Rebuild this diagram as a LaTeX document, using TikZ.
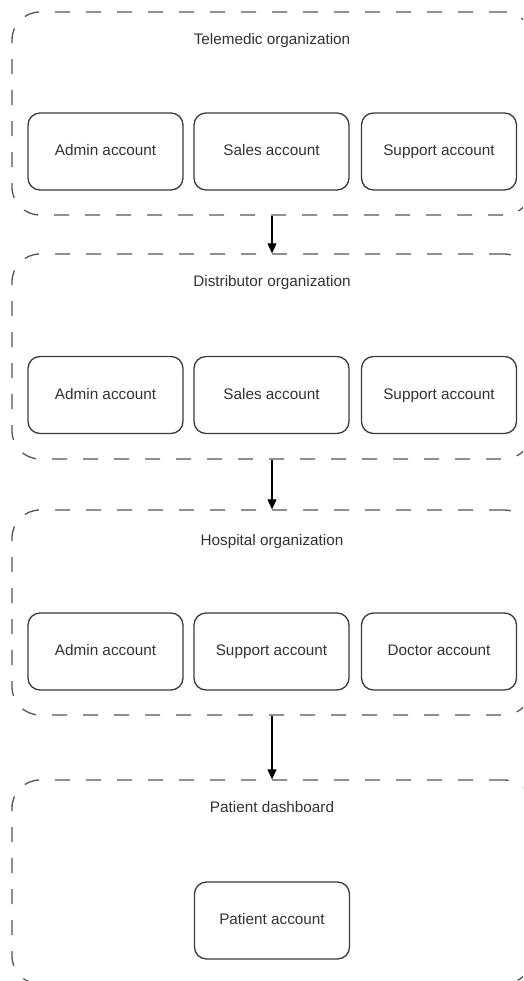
\documentclass[tikz,border=0pt]{standalone}
\usepackage{fontspec}
\setmainfont{Liberation Sans}
\usetikzlibrary{arrows.meta}
\definecolor{linegray}{HTML}{555555}
\definecolor{boxgray}{HTML}{3C3C3C}
\definecolor{textgray}{HTML}{333333}
\tikzset{
  container/.style={draw=linegray, line width=1.3pt, dash pattern=on 15pt off 16pt, rounded corners=28pt,
    minimum width=520pt, inner sep=0pt, fill=none},
  acct/.style={draw=boxgray, line width=1.3pt, rounded corners=12pt, minimum width=155pt, minimum height=77pt,
    inner sep=0pt, font=\fontsize{15.3}{18}\selectfont, text=textgray, text height=11pt, text depth=3pt},
  ttl/.style={font=\fontsize{15.3}{18}\selectfont, text=textgray, inner sep=0pt, text height=11pt, text depth=3pt},
  flow/.style={draw=black, line width=1.2pt, -{Triangle[length=10pt,width=9pt]}}
}
\begin{document}
\begin{tikzpicture}[x=1pt,y=-1pt]
\useasboundingbox (0,0) rectangle (523,981);
\clip (0,0) rectangle (523,981);
\fill[white] (0,0) rectangle (523,981);
% containers
\node[container, minimum height=203pt] (c1) at (272,113.5) {};
\node[container, minimum height=205pt] (c2) at (272,356.5) {};
\node[container, minimum height=205pt] (c3) at (272,612.5) {};
\node[container, minimum height=204pt] (c4) at (272,882) {};
% titles
\node[ttl] (t1) at (272,41) {Telemedic organization};
\node[ttl] (t2) at (272,283) {Distributor organization};
\node[ttl] (t3) at (272,541) {Hospital organization};
\node[ttl] (t4) at (272,808) {Patient dashboard};
% row 1
\node[acct] (a1) at (105.5,151.5) {Admin account};
\node[acct] (s1) at (271.5,151.5) {Sales account};
\node[acct] (p1) at (439,151.5) {Support account};
% row 2
\node[acct] (a2) at (105.5,395) {Admin account};
\node[acct] (s2) at (271.5,395) {Sales account};
\node[acct] (p2) at (439,395) {Support account};
% row 3
\node[acct] (a3) at (105.5,651.5) {Admin account};
\node[acct] (s3) at (271.5,651.5) {Support account};
\node[acct] (d3) at (439,651.5) {Doctor account};
% patient
\node[acct] (pa) at (272,920.5) {Patient account};
% arrows
\draw[flow] (c1.south) -- (c2.north);
\draw[flow] (c2.south) -- (c3.north);
\draw[flow] (c3.south) -- (c4.north);
\end{tikzpicture}
\end{document}
